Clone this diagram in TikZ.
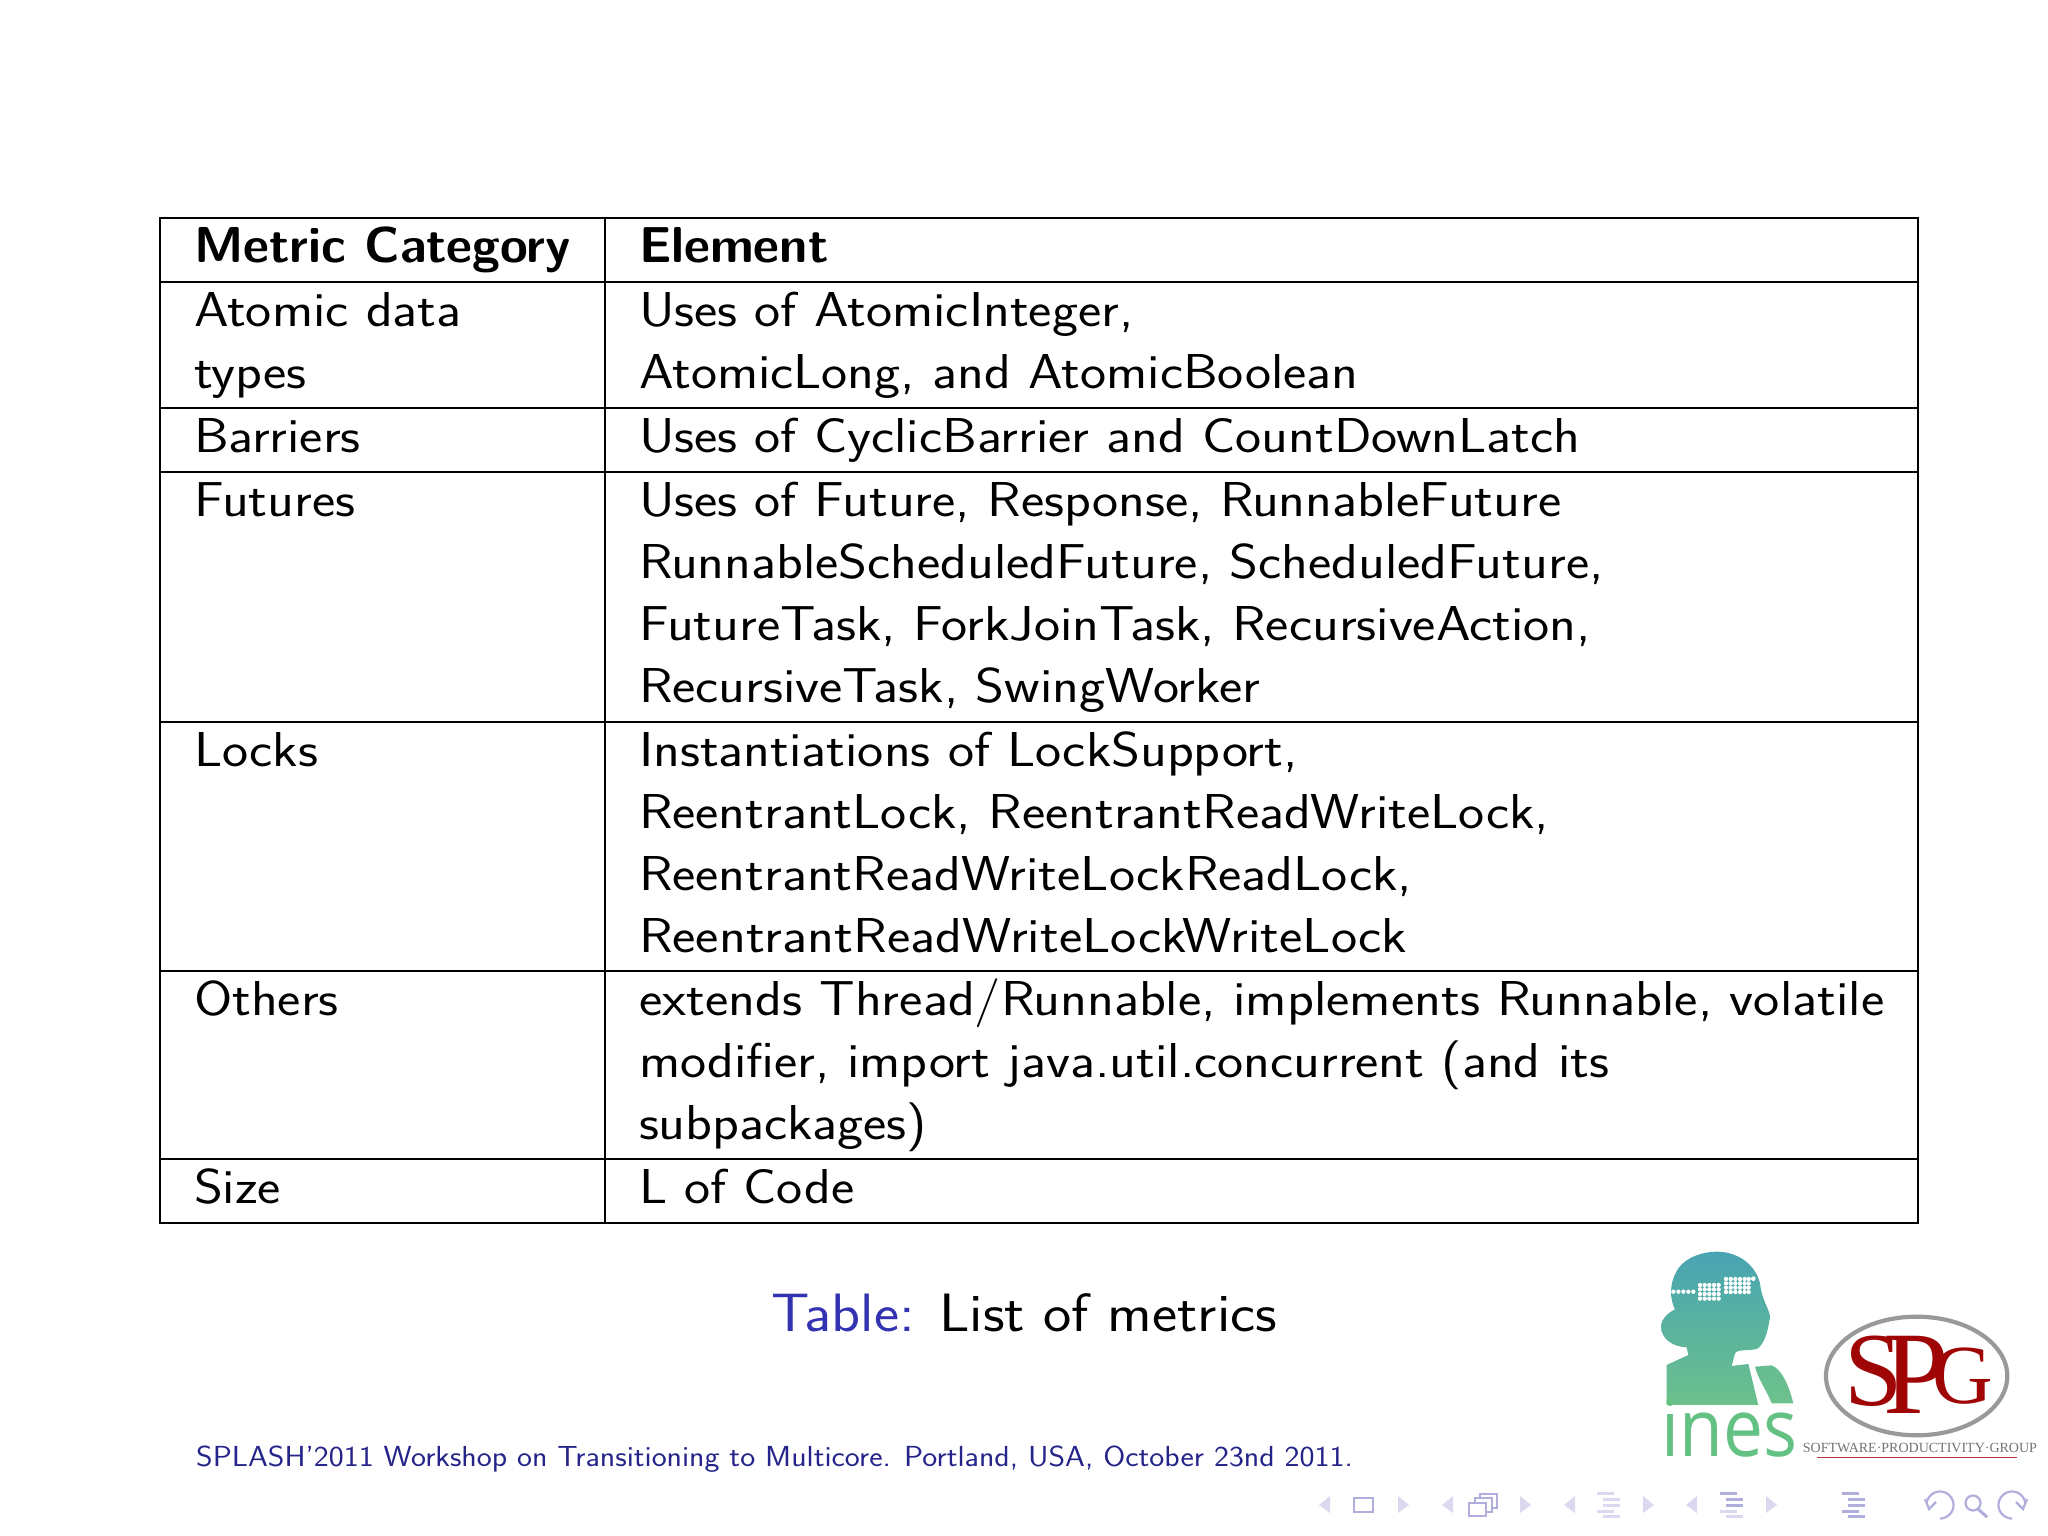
\documentclass[tikz,border=0pt]{standalone}
\usepackage{fontspec}
\setsansfont{Latin Modern Sans}
\newfontfamily\serifL{Liberation Serif}
\newfontfamily\opensans[FakeStretch=0.89]{Open Sans}
\newfontfamily\regf[FakeStretch=1.13]{Latin Modern Sans}
\newfontfamily\othersf[FakeStretch=1.134]{Latin Modern Sans}
\newfontfamily\capf[FakeStretch=1.11]{Latin Modern Sans}
\newfontfamily\footf[FakeStretch=1.097]{Latin Modern Sans}
\definecolor{capblue}{HTML}{3333B2}
\definecolor{footblue}{HTML}{24248A}
\definecolor{navdark}{HTML}{B0AEDD}
\definecolor{navfaint}{HTML}{DAD9EF}
\definecolor{spgred}{HTML}{A00505}
\definecolor{inesgreen}{HTML}{64C184}
\definecolor{inestop}{HTML}{48A4B2}
\definecolor{inesbot}{HTML}{6CC18C}
\tikzset{
  tabrule/.style={draw=black,line width=2.2pt},
  cell/.style={anchor=base west,inner sep=0pt,outer sep=0pt,font=\fontsize{49}{60}\selectfont\regf,text=black},
  widecell/.style={cell,font=\fontsize{49}{60}\selectfont\othersf},
  headcell/.style={cell,font=\fontsize{50.5}{60}\selectfont\sffamily\bfseries},
  captext/.style={anchor=base west,inner sep=0pt,font=\fontsize{54}{66}\selectfont\capf},
  foot/.style={anchor=base west,inner sep=0pt,font=\fontsize{29}{36}\selectfont\footf,text=footblue},
  navtri/.style={fill=navfaint,draw=none},
  navbar/.style={fill=navdark,draw=none},
  navbarf/.style={fill=navfaint,draw=none},
  navline/.style={draw=navdark,line width=2.2pt,fill=none},
  spgletter/.style={anchor=base west,inner sep=0pt,text=spgred},
}
\newcommand{\navL}[1]{\fill[navtri] (#1,1496) -- (#1,1513) -- (#1-11,1505) -- cycle;}
\newcommand{\navR}[1]{\fill[navtri] (#1,1496) -- (#1,1513) -- (#1+11,1505) -- cycle;}
% x-left, then the five bar styles from top to bottom
\newcommand{\navBars}[6]{%
  \fill[#2] (#1,1492) rectangle (#1+17,1495);
  \fill[#3] (#1+6,1498) rectangle (#1+23,1501);
  \fill[#4] (#1+6,1503.5) rectangle (#1+23,1506.5);
  \fill[#5] (#1,1509.5) rectangle (#1+17,1512.5);
  \fill[#6] (#1+6,1515) rectangle (#1+23,1518);
}
\begin{document}
\begin{tikzpicture}[x=1pt,y=-1pt]
\useasboundingbox (0,0) rectangle (2048,1536);
\fill[white] (0,0) rectangle (2048,1536);
% table rules
\foreach \yy in {218,282,408,472,722,971,1159,1223}{
  \draw[tabrule] (160,\yy) -- (1918,\yy);
}
\draw[tabrule] (160,217) -- (160,1224);
\draw[tabrule] (605,217) -- (605,1224);
\draw[tabrule] (1918,217) -- (1918,1224);
% header
\node[headcell] (h1) at (194,262) {Metric Category};
\node[headcell] (h2) at (639,262) {Element};
% left column
\node[cell] (a1) at (194,326) {Atomic data};
\node[cell] (a2) at (194,388) {types};
\node[cell] (b1) at (194,452) {Barriers};
\node[cell] (c1) at (194,516) {Futures};
\node[cell] (d1) at (194,766) {Locks};
\node[cell] (e1) at (194,1015) {Others};
\node[cell] (f1) at (194,1203) {Size};
% right column
\node[cell] (r1) at (639,326) {Uses of AtomicInteger,};
\node[cell] (r2) at (639,388) {AtomicLong, and AtomicBoolean};
\node[cell] (r3) at (639,452) {Uses of CyclicBarrier and CountDownLatch};
\node[cell] (r4) at (639,516) {Uses of Future, Response, RunnableFuture};
\node[cell] (r5) at (639,578) {RunnableScheduledFuture, ScheduledFuture,};
\node[cell] (r6) at (639,640) {FutureTask, ForkJoinTask, RecursiveAction,};
\node[cell] (r7) at (639,702) {RecursiveTask, SwingWorker};
\node[cell] (r8) at (639,766) {Instantiations of LockSupport,};
\node[cell] (r9) at (639,828) {ReentrantLock, ReentrantReadWriteLock,};
\node[cell] (r10) at (639,890) {ReentrantReadWriteLockReadLock,};
\node[widecell] (r11) at (639,952) {ReentrantReadWriteLockWriteLock};
\node[widecell] (r12) at (639,1015) {extends Thread/Runnable, implements Runnable, volatile};
\node[cell] (r13) at (639,1077) {modifier, import java.util.concurrent (and its};
\node[cell] (r14) at (639,1139) {subpackages)};
\node[cell] (r15) at (639,1203) {L of Code};
% caption
\node[captext,text=capblue] (cap1) at (771,1331) {Table:};
\node[captext,text=black] (cap2) at (939,1331) {List of metrics};
% footer
\node[foot] (ft) at (196,1466) {SPLASH’2011 Workshop on Transitioning to Multicore. Portland, USA, October 23nd 2011.};
% ines logo
\begin{scope}[shift={(1620,1240)},x=.3333pt,y=-.3333pt]
\shade[top color=inestop,bottom color=inesbot,draw=none]
  (290,35) .. controls (350,35) and (405,70) .. (420,130)
  .. controls (425,180) and (450,210) .. (450,232)
  .. controls (445,260) and (440,300) .. (415,325)
  .. controls (390,335) and (355,325) .. (345,340)
  -- (335,378) -- (385,372) -- (415,495) -- (140,495) -- (140,375) -- (205,345)
  -- (200,322)
  .. controls (160,320) and (125,300) .. (123,260)
  .. controls (123,235) and (150,215) .. (165,208)
  .. controls (150,180) and (145,130) .. (175,85)
  .. controls (200,50) and (250,35) .. (290,35) -- cycle;
\shade[top color=inesbot!85!inestop,bottom color=inesbot,draw=none]
  (405,380) -- (455,376) .. controls (490,390) and (510,450) .. (520,490) -- (455,490) .. controls (440,450) and (415,420) .. (405,380) -- cycle;
\foreach \xx in {160,175,190,205,220}{\fill[white] (\xx,155) circle (6.5);}
\foreach \xx in {240,254,268,282,296}{\foreach \yy in {135,148,162,176}{\fill[white] (\xx,\yy) circle (6.5);}}
\foreach \xx in {318,332,346,360,374,386}{\foreach \yy in {117,130,143,156}{\fill[white] (\xx,\yy) circle (6.5);}}
\fill[white] (400,116) circle (7);
\node[anchor=base west,inner sep=0pt,text=inesgreen,font=\fontsize{80}{82}\selectfont\opensans] (ines) at (125,650) {ines};
\fill[white] (120,500) rectangle (175,522);
% SPG logo
\draw[draw=black!40,line width=4.2pt] (890,408) ellipse [x radius=272,y radius=178];
\node[spgletter,font=\fontsize{105}{105}\selectfont\serifL] (sS) at (672,497) {S};
\node[spgletter,font=\fontsize{118}{118}\selectfont\serifL] (sP) at (790,522) {P};
\node[spgletter,font=\fontsize{84}{84}\selectfont\serifL] (sG) at (938,490) {G};
\node[anchor=base west,inner sep=0pt,text=black!55,font=\fontsize{14}{16}\selectfont\serifL] (sw) at (548,638) {SOFTWARE·PRODUCTIVITY·GROUP};
\draw[draw=spgred!80,line width=.8pt] (590,652) -- (1190,652);
\end{scope}
% navigation symbols
\navL{1330}
\draw[navline] (1354,1498) rectangle (1373,1512);
\navR{1398}
\navL{1453}
\draw[navline] (1480,1494) rectangle (1497,1508);
\draw[navline,fill=white] (1475,1498) rectangle (1492,1512);
\draw[navline,fill=white] (1469,1503) rectangle (1486,1516);
\navR{1520}
\navL{1575}
\navBars{1597}{navbarf}{navbarf}{navbarf}{navbarf}{navbarf}
\navR{1643}
\navL{1697}
\navBars{1720}{navbar}{navbar}{navbar}{navbarf}{navbarf}
\navR{1766}
\navBars{1842}{navbar}{navbar}{navbar}{navbar}{navbar}
% undo
\draw[navline] plot[domain=170:-90,samples=30] ({1940+13.5*cos(\x)},{1505-13.5*sin(\x)});
\draw[navline] (1925,1499) -- (1929,1509) -- (1936,1502);
% search
\draw[navline] (1973,1503) circle (7.5);
\draw[navline,line width=3pt] (1978,1509) -- (1987,1517);
% redo
\draw[navline] plot[domain=10:270,samples=30] ({2012+13.5*cos(\x)},{1505-13.5*sin(\x)});
\draw[navline] (2027,1499) -- (2023,1509) -- (2016,1502);
\end{tikzpicture}
\end{document}
